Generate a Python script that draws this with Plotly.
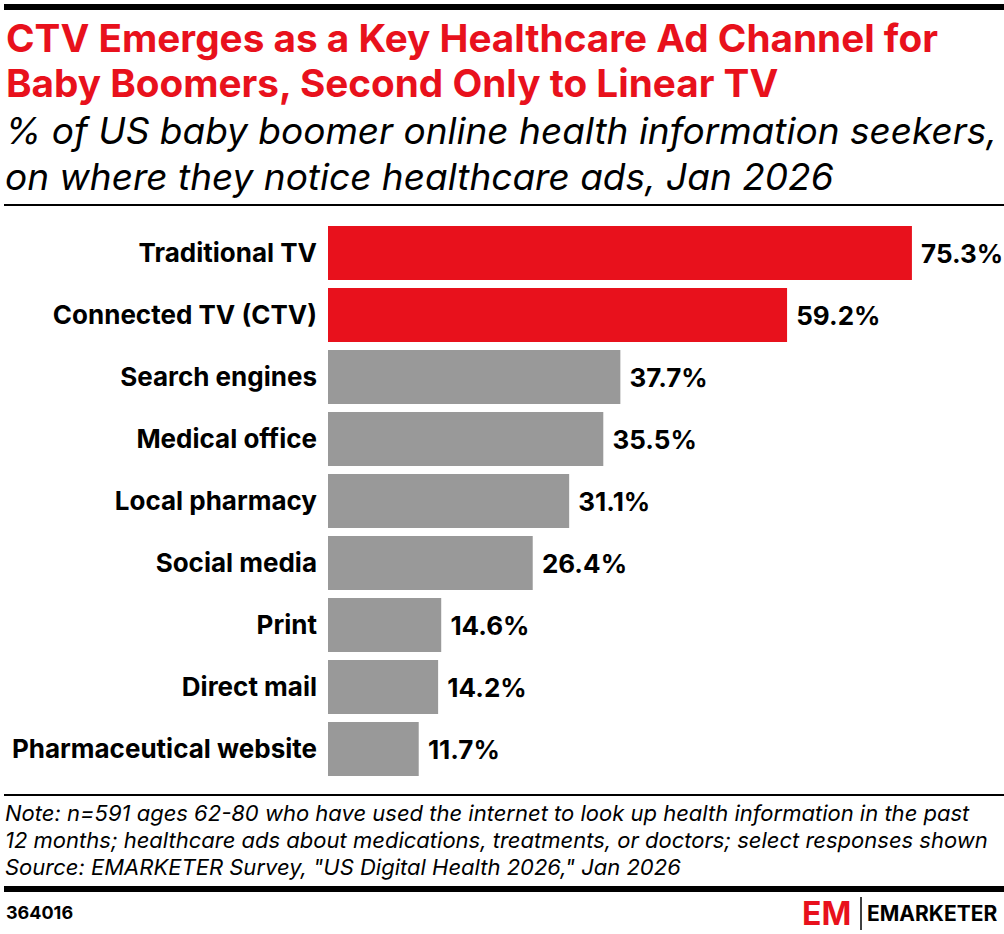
import plotly.graph_objects as go

# data
channels = ["Traditional TV", "Connected TV (CTV)", "Search engines", "Medical office",
            "Local pharmacy", "Social media", "Print", "Direct mail", "Pharmaceutical website"]
shares = [75.3, 59.2, 37.7, 35.5, 31.1, 26.4, 14.6, 14.2, 11.7]
highlight = [True, True, False, False, False, False, False, False, False]

red = "#E8111C"
grey = "#999999"
font = "Inter"

W, H = 1004, 934
L, R, T, B = 328, 6, 222, 154
PW, PH = W - L - R, H - T - B

colors = [red if h else grey for h in highlight]
labels = [f" {v:.1f}%" for v in shares]

fig = go.Figure()
fig.add_trace(go.Bar(
    x=shares, y=channels, orientation="h",
    marker=dict(color=colors, line=dict(width=0)),
    text=labels, textposition="outside", cliponaxis=False,
    textfont=dict(family=font, size=26, color="black", weight="bold"),
    hoverinfo="skip",
))

fig.update_layout(
    width=W, height=H,
    margin=dict(l=L, r=R, t=T, b=B),
    paper_bgcolor="white", plot_bgcolor="white",
    bargap=0.13, showlegend=False,
    xaxis=dict(range=[0, 86.4], visible=False),
    yaxis=dict(autorange="reversed", showgrid=False, zeroline=False, ticks="",
               ticklabelstandoff=10,
               tickfont=dict(family=font, size=26, color="black", weight="bold")),
)


def px_x(x):
    return (x - L) / PW


def px_y(y):
    return 1 - (y - T) / PH


# rules, as filled strips (top, under subtitle, above note, above footer)
for y0, y1 in [(4, 10), (204, 206), (794, 796), (886, 892)]:
    fig.add_shape(type="rect", xref="paper", yref="paper", x0=px_x(4), x1=px_x(1004),
                  y0=px_y(y1), y1=px_y(y0), fillcolor="black", line=dict(width=0),
                  layer="above")


def txt(x, y, s, size, color="black", weight="normal", italic=False, anchor="left"):
    fig.add_annotation(
        x=px_x(x), y=px_y(y), xref="paper", yref="paper", xanchor=anchor, yanchor="middle",
        showarrow=False, text=s,
        font=dict(family=font, size=size, color=color, weight=weight,
                  style="italic" if italic else "normal"),
    )


txt(4, 38, "CTV Emerges as a Key Healthcare Ad Channel for", 38.7, red, "bold")
txt(4, 83, "Baby Boomers, Second Only to Linear TV", 38.7, red, "bold")
txt(3, 130, "% of US baby boomer online health information seekers,", 37, italic=True)
txt(3, 176, "on where they notice healthcare ads, Jan 2026", 37, italic=True)

txt(3, 813, "Note: n=591 ages 62-80 who have used the internet to look up health information in the past", 22, italic=True)
txt(3, 840, "12 months; healthcare ads about medications, treatments, or doctors; select responses shown", 22, italic=True)
txt(3, 867, "Source: EMARKETER Survey, \"US Digital Health 2026,\" Jan 2026", 22, italic=True)

txt(4, 912, "364016", 18, weight="bold")
txt(853, 913, "EM", 32, red, "bold", anchor="right")
fig.add_shape(type="line", xref="paper", yref="paper", x0=px_x(861), x1=px_x(861),
              y0=px_y(897), y1=px_y(930), line=dict(color="black", width=1.5))
txt(999, 913, "EMARKETER", 21, weight="bold", anchor="right")

fig.write_html("out.html", config={"displayModeBar": False},
               post_script="document.body.style.margin='0px';")
